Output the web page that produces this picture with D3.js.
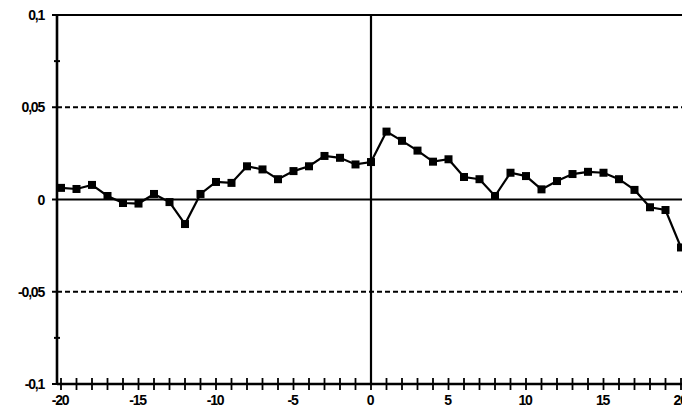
<!DOCTYPE html>
<html><head><meta charset="utf-8">
<script src="https://cdn.jsdelivr.net/npm/d3@7"></script>
<style>
body{margin:0;background:#fff;}
svg text{font-family:"Liberation Sans",Arial,sans-serif;font-weight:bold;font-size:14px;fill:#000;letter-spacing:-1.2px;}
</style></head>
<body><svg id="c" width="682" height="408"></svg>
<script>
const lags = d3.range(-20, 21);
const values = [0.0063,0.0057,0.0079,0.0019,-0.0019,-0.0022,0.003,-0.0014,-0.0133,0.003,
  0.0095,0.009,0.018,0.0163,0.011,0.0154,0.018,0.0236,0.0226,0.019,
  0.0203,0.0368,0.0318,0.0265,0.0205,0.0218,0.0122,0.011,0.0019,0.0145,
  0.0127,0.0055,0.010,0.0138,0.015,0.0145,0.011,0.0052,-0.0042,-0.0057,-0.026];
const xTickLabels = [-20,-15,-10,-5,0,5,10,15,20];
const yTickLabels = [0.1,0.05,0,-0.05,-0.1];
const yMinorTicks = [0.075,-0.075];

const svg = d3.select("#c");
const x = d3.scaleLinear().domain([-20,20]).range([61,681]);
const y = d3.scaleLinear().domain([-0.1,0.1]).range([384,15]);
const fmt = v => String(v).replace(".", ",");
const axisX = 57;

// dashed gridlines at ±0.05
svg.selectAll("line.dash").data([0.05,-0.05]).enter().append("line")
  .attr("x1",axisX).attr("x2",682).attr("y1",d=>y(d)).attr("y2",d=>y(d))
  .attr("stroke","#000").attr("stroke-width",2).attr("stroke-dasharray","5,3");
// top line and zero line
svg.selectAll("line.solid").data([0.1,0]).enter().append("line")
  .attr("x1",axisX).attr("x2",682).attr("y1",d=>y(d)).attr("y2",d=>y(d))
  .attr("stroke","#000").attr("stroke-width",2.2);
// vertical line at 0
svg.append("line").attr("x1",x(0)).attr("x2",x(0)).attr("y1",y(0.1)).attr("y2",y(-0.1))
  .attr("stroke","#000").attr("stroke-width",2.2);

// y axis
svg.append("line").attr("x1",axisX).attr("x2",axisX).attr("y1",y(0.1)).attr("y2",y(-0.1))
  .attr("stroke","#000").attr("stroke-width",2.6);
svg.selectAll("line.yt").data(yTickLabels).enter().append("line")
  .attr("x1",axisX-5).attr("x2",axisX).attr("y1",d=>y(d)).attr("y2",d=>y(d))
  .attr("stroke","#000").attr("stroke-width",2);
svg.selectAll("line.ym").data(yMinorTicks).enter().append("line")
  .attr("x1",axisX-3).attr("x2",axisX+3).attr("y1",d=>y(d)).attr("y2",d=>y(d))
  .attr("stroke","#000").attr("stroke-width",2);
svg.selectAll("text.yl").data(yTickLabels).enter().append("text")
  .attr("x",44).attr("y",d=>y(d)+5).attr("text-anchor","end").text(fmt);

// x axis
svg.append("line").attr("x1",axisX).attr("x2",682).attr("y1",y(-0.1)).attr("y2",y(-0.1))
  .attr("stroke","#000").attr("stroke-width",2.6);
svg.selectAll("line.xt").data(lags).enter().append("line")
  .attr("x1",d=>x(d)).attr("x2",d=>x(d)).attr("y1",y(-0.1)-6).attr("y2",y(-0.1)+6)
  .attr("stroke","#000").attr("stroke-width",1.8);
svg.selectAll("text.xl").data(xTickLabels).enter().append("text")
  .attr("x",d=>x(d)-1).attr("y",405).attr("text-anchor","middle").text(d=>d);

// series
const pts = lags.map((l,i)=>[l,values[i]]);
svg.append("path").datum(pts)
  .attr("d",d3.line().x(d=>x(d[0])).y(d=>y(d[1])))
  .attr("fill","none").attr("stroke","#000").attr("stroke-width",2.2);
svg.selectAll("rect.m").data(pts).enter().append("rect")
  .attr("x",d=>x(d[0])-4).attr("y",d=>y(d[1])-4).attr("width",8).attr("height",8)
  .attr("fill","#000");
</script></body></html>
